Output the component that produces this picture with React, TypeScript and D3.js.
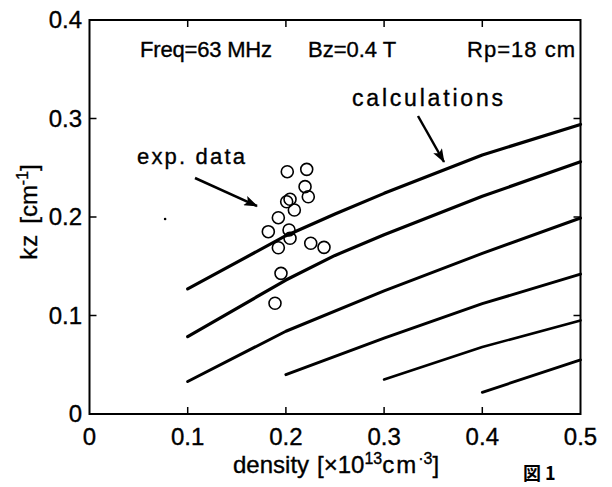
import React from "react";
import * as d3 from "d3";

// ---- data ----
const xTicks = [0, 0.1, 0.2, 0.3, 0.4, 0.5];
const yTicks = [0, 0.1, 0.2, 0.3, 0.4];

const curve1X = [0.1, 0.2, 0.25, 0.3, 0.4, 0.5];
const curve1Y = [0.127, 0.181, 0.203, 0.224, 0.263, 0.294];
const curve2X = [0.1, 0.2, 0.25, 0.3, 0.4, 0.5];
const curve2Y = [0.0785, 0.136, 0.161, 0.182, 0.221, 0.256];
const curve3X = [0.1, 0.2, 0.3, 0.4, 0.5];
const curve3Y = [0.033, 0.084, 0.125, 0.163, 0.199];
const curve4X = [0.2, 0.3, 0.4, 0.5];
const curve4Y = [0.04, 0.077, 0.112, 0.142];
const curve5X = [0.3, 0.4, 0.5];
const curve5Y = [0.035, 0.068, 0.095];
const curve6X = [0.4, 0.5];
const curve6Y = [0.022, 0.055];

const expDensity = [0.2014, 0.2212, 0.2195, 0.2228, 0.2042, 0.2008, 0.2086, 0.1923, 0.1821, 0.2032, 0.2042, 0.1923, 0.2253, 0.2388, 0.195, 0.1889];
const expKz = [0.246, 0.2484, 0.2308, 0.2206, 0.218, 0.2155, 0.2071, 0.1993, 0.1851, 0.1868, 0.1784, 0.1688, 0.1733, 0.1692, 0.1428, 0.1124];

const speckX = [0.077];
const speckY = [0.198];

const W = 612;
const H = 487;
const FONT = "'Liberation Sans', Arial, Helvetica, sans-serif";
const TS = { stroke: "#000", strokeWidth: 0.35 };

export default function App() {
  const x = d3.scaleLinear().domain([0, 0.5]).range([89.5, 580.5]);
  const y = d3.scaleLinear().domain([0, 0.4]).range([414, 20]);

  const curves = [
    [curve1X, curve1Y, 3.2],
    [curve2X, curve2Y, 3.2],
    [curve3X, curve3Y, 3],
    [curve4X, curve4Y, 3],
    [curve5X, curve5Y, 2.6],
    [curve6X, curve6Y, 2.8],
  ] as [number[], number[], number][];

  const line = d3
    .line<[number, number]>()
    .x((d) => x(d[0]))
    .y((d) => y(d[1]))
    .curve(d3.curveLinear);

  const tickLen = 7;

  return (
    <svg
      width={W}
      height={H}
      viewBox={`0 0 ${W} ${H}`}
      style={{ position: "absolute", left: 0, top: 0, background: "#fff" }}
    >
      <defs>
        <marker id="ah" viewBox="0 0 14 10" refX="13" refY="5" markerWidth="14" markerHeight="10" markerUnits="userSpaceOnUse" orient="auto">
          <path d="M0,0 L14,5 L0,10 L3,5 Z" fill="#000" />
        </marker>
      </defs>
      <rect x={0} y={0} width={W} height={H} fill="#fff" />

      {/* ticks */}
      {xTicks.slice(1, -1).map((t) => (
        <g key={"xt" + t}>
          <line x1={x(t)} x2={x(t)} y1={y(0)} y2={y(0) - tickLen} stroke="#000" strokeWidth={1.5} />
          <line x1={x(t)} x2={x(t)} y1={y(0.4)} y2={y(0.4) + tickLen} stroke="#000" strokeWidth={1.5} />
        </g>
      ))}
      {yTicks.slice(1, -1).map((t) => (
        <g key={"yt" + t}>
          <line x1={x(0)} x2={x(0) + tickLen} y1={y(t)} y2={y(t)} stroke="#000" strokeWidth={1.5} />
          <line x1={x(0.5)} x2={x(0.5) - tickLen} y1={y(t)} y2={y(t)} stroke="#000" strokeWidth={1.5} />
        </g>
      ))}

      {/* frame */}
      <rect x={x(0)} y={y(0.4)} width={x(0.5) - x(0)} height={y(0) - y(0.4)} fill="none" stroke="#000" strokeWidth={2} />

      {/* tick labels */}
      {xTicks.map((t) => (
        <text key={"xl" + t} x={x(t)} y={445} textAnchor="middle" fontFamily={FONT} fontSize={24} fill="#000" {...TS}>
          {t === 0 ? "0" : d3.format(".1f")(t)}
        </text>
      ))}
      {yTicks.map((t) => (
        <text key={"yl" + t} x={82} y={y(t) + 8} textAnchor="end" fontFamily={FONT} fontSize={24} fill="#000" {...TS}>
          {t === 0 ? "0" : d3.format(".1f")(t)}
        </text>
      ))}

      {/* axis titles */}
      <text x={233} y={473} fontFamily={FONT} fontSize={24} fill="#000" {...TS}>
        <tspan>density</tspan>
        <tspan dx={8}>[×10</tspan>
        <tspan dy={-9} fontSize={16}>13</tspan>
        <tspan dy={9} letterSpacing={2}>cm</tspan>
        <tspan dy={-9} fontSize={16}>·3</tspan>
        <tspan dy={9}>]</tspan>
      </text>
      <text transform="translate(37,212) rotate(-90)" textAnchor="middle" fontFamily={FONT} fontSize={24} fill="#000" {...TS}>
        <tspan letterSpacing={1}>kz</tspan>
        <tspan dx={10}>[cm</tspan>
        <tspan dy={-9} fontSize={16}>-1</tspan>
        <tspan dy={9}>]</tspan>
      </text>

      {/* parameters */}
      <text x={140} y={57} fontFamily={FONT} fontSize={22} fill="#000" textLength={132} lengthAdjust="spacing" {...TS}>Freq=63 MHz</text>
      <text x={308} y={57} fontFamily={FONT} fontSize={22} fill="#000" {...TS}>Bz=0.4 T</text>
      <text x={467} y={57} fontFamily={FONT} fontSize={22} fill="#000" textLength={108} lengthAdjust="spacing" {...TS}>Rp=18 cm</text>

      {/* calculation curves */}
      {curves.map(([xs, ys, sw], i) => (
        <path
          key={"c" + i}
          d={line(xs.map((v, j) => [v, ys[j]] as [number, number])) || ""}
          fill="none"
          stroke="#000"
          strokeWidth={sw}
          strokeLinecap="round"
          strokeLinejoin="round"
        />
      ))}

      {/* experimental data */}
      {expDensity.map((d, i) => (
        <circle key={"e" + i} cx={x(d)} cy={y(expKz[i])} r={6} fill="none" stroke="#000" strokeWidth={1.6} />
      ))}
      {speckX.map((d, i) => (
        <circle key={"s" + i} cx={x(d)} cy={y(speckY[i])} r={1.3} fill="#000" />
      ))}

      {/* annotations */}
      <text x={137} y={164} fontFamily={FONT} fontSize={22} fill="#000" textLength={108} lengthAdjust="spacing" {...TS}>exp. data</text>
      <line x1={195} y1={178} x2={257} y2={206} stroke="#000" strokeWidth={2.5} markerEnd="url(#ah)" />
      <text x={352} y={106} fontFamily={FONT} fontSize={23} fill="#000" textLength={151} lengthAdjust="spacing" {...TS}>calculations</text>
      <line x1={418} y1={116} x2={444} y2={162} stroke="#000" strokeWidth={2.5} markerEnd="url(#ah)" />

      {/* figure number */}
      <text x={523} y={480} fontFamily="'Noto Sans CJK JP', sans-serif" fontSize={18} fontWeight={700} fill="#000">図 1</text>
    </svg>
  );
}
